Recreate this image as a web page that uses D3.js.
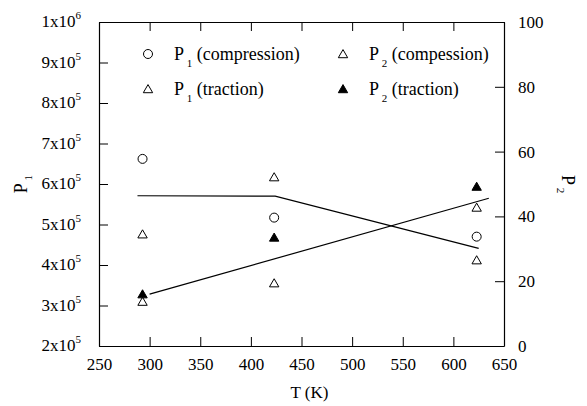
<!DOCTYPE html>
<html>
<head>
<meta charset="utf-8">
<script src="https://cdn.jsdelivr.net/npm/d3@7"></script>
<style>
  body { margin: 0; background: #fff; }
  svg text { font-family: "Liberation Serif", "DejaVu Serif", "Times New Roman", serif !important; }
</style>
</head>
<body>
<svg id="chart" width="587" height="406"></svg>
<script>
// data
const temps = [293, 423, 623];
const p1Compression = [6.62e5, 5.17e5, 4.70e5];
const p1Traction = [4.76e5, 6.17e5, 5.42e5];
const p2Compression = [13.7, 19.4, 26.5];
const p2Traction = [16.0, 33.5, 49.2];

// the two trend lines
const fit1T = [288, 424, 625];
const fit1P1 = [5.71e5, 5.70e5, 4.41e5];
const fit2T = [300, 635];
const fit2P2 = [16.0, 45.6];

const xTicks = [250, 300, 350, 400, 450, 500, 550, 600, 650];
const leftTicks = [2, 3, 4, 5, 6, 7, 8, 9, 10];   // in 1e5
const rightTicks = [0, 20, 40, 60, 80, 100];

const width = 587, height = 406;
const margin = { top: 22, right: 83, bottom: 60, left: 99 };
const serif = '"Liberation Serif", "DejaVu Serif", "Times New Roman", serif';

const svg = d3.select("#chart");

const x = d3.scaleLinear().domain([250, 650]).range([margin.left, width - margin.right]);
const yL = d3.scaleLinear().domain([2e5, 1e6]).range([height - margin.bottom, margin.top]);
const yR = d3.scaleLinear().domain([0, 100]).range([height - margin.bottom, margin.top]);

const tickLen = 9;
const ink = "#000";

// axes
const axBottom = svg.append("g").attr("transform", `translate(0,${yL.range()[0]})`)
  .call(d3.axisBottom(x).tickValues(xTicks).tickSizeInner(-tickLen).tickSizeOuter(0).tickPadding(12));
const axTop = svg.append("g").attr("transform", `translate(0,${margin.top})`)
  .call(d3.axisTop(x).tickValues(xTicks).tickSizeInner(-tickLen).tickSizeOuter(0).tickFormat(""));
const axLeft = svg.append("g").attr("transform", `translate(${margin.left},0)`)
  .call(d3.axisLeft(yL).tickValues(leftTicks.map(d => d * 1e5)).tickSizeInner(-tickLen).tickSizeOuter(0).tickFormat(""));
const axRight = svg.append("g").attr("transform", `translate(${width - margin.right},0)`)
  .call(d3.axisRight(yR).tickValues(rightTicks).tickSizeInner(-tickLen).tickSizeOuter(0).tickPadding(14));

[axBottom, axTop, axLeft, axRight].forEach(g => {
  g.attr("font-family", serif);
  g.select(".domain").attr("stroke", ink).attr("stroke-width", 1.2);
  g.selectAll(".tick line").attr("stroke", ink).attr("stroke-width", 1);
  g.selectAll(".tick text").attr("fill", ink).style("font-size", "17px");
});

// left tick labels like 9x10^5
leftTicks.forEach(v => {
  const t = svg.append("text")
    .attr("x", margin.left - 18)
    .attr("y", yL(v * 1e5) + 5)
    .attr("text-anchor", "end")
    .style("font-size", "17px");
  t.append("tspan").text(v === 10 ? "1x10" : v + "x10");
  t.append("tspan").attr("dy", -8).style("font-size", "11px").text(v === 10 ? "6" : "5");
});

// axis titles
const p1Label = svg.append("text")
  .attr("transform", `translate(27,${(margin.top + yL.range()[0]) / 2}) rotate(-90)`)
  .attr("text-anchor", "middle").style("font-size", "18px");
p1Label.append("tspan").text("P");
p1Label.append("tspan").attr("dy", 5).style("font-size", "11px").text(" 1");

const p2Label = svg.append("text")
  .attr("transform", `translate(562,${(margin.top + yL.range()[0]) / 2}) rotate(90)`)
  .attr("text-anchor", "middle").style("font-size", "18px");
p2Label.append("tspan").text("P");
p2Label.append("tspan").attr("dy", 5).style("font-size", "11px").text(" 2");

svg.append("text")
  .attr("x", x(450) + 8).attr("y", 398)
  .attr("text-anchor", "middle").style("font-size", "17px")
  .text("T (K)");

// trend lines
const line1 = d3.line().x((d, i) => x(fit1T[i])).y(d => yL(d));
svg.append("path").datum(fit1P1).attr("d", line1)
  .attr("fill", "none").attr("stroke", ink).attr("stroke-width", 1.2);
const line2 = d3.line().x((d, i) => x(fit2T[i])).y(d => yR(d));
svg.append("path").datum(fit2P2).attr("d", line2)
  .attr("fill", "none").attr("stroke", ink).attr("stroke-width", 1.2);

// markers
const tri = d3.symbol().type(d3.symbolTriangle).size(38);
function triangle(g, cx, cy, filled) {
  g.append("path").attr("d", tri())
    .attr("transform", `translate(${cx},${cy + 1})`)
    .attr("fill", filled ? ink : "#fff").attr("stroke", ink).attr("stroke-width", 1);
}
function circle(g, cx, cy) {
  g.append("circle").attr("cx", cx).attr("cy", cy).attr("r", 4.5)
    .attr("fill", "#fff").attr("stroke", ink).attr("stroke-width", 1);
}

const marks = svg.append("g");
temps.forEach((t, i) => {
  circle(marks, x(t), yL(p1Compression[i]));
  triangle(marks, x(t), yL(p1Traction[i]), false);
  triangle(marks, x(t), yR(p2Compression[i]), false);
});
temps.forEach((t, i) => triangle(marks, x(t), yR(p2Traction[i]), true));

// legend
const legend = [
  { col: 0, row: 0, kind: "circle", sub: "1", label: "(compression)" },
  { col: 1, row: 0, kind: "open", sub: "2", label: "(compession)" },
  { col: 0, row: 1, kind: "open", sub: "1", label: "(traction)" },
  { col: 1, row: 1, kind: "filled", sub: "2", label: "(traction)" }
];
const lg = svg.append("g");
legend.forEach(d => {
  const mx = d.col === 0 ? 148 : 343;
  const my = d.row === 0 ? 54 : 89;
  if (d.kind === "circle") circle(lg, mx, my);
  else triangle(lg, mx, my, d.kind === "filled");
  const t = lg.append("text").attr("x", mx + 26).attr("y", my + 6).style("font-size", "18px");
  t.append("tspan").text("P");
  t.append("tspan").attr("dy", 7).style("font-size", "11px").text(" " + d.sub);
  t.append("tspan").attr("dy", -7).text(" " + d.label);
});
</script>
</body>
</html>
